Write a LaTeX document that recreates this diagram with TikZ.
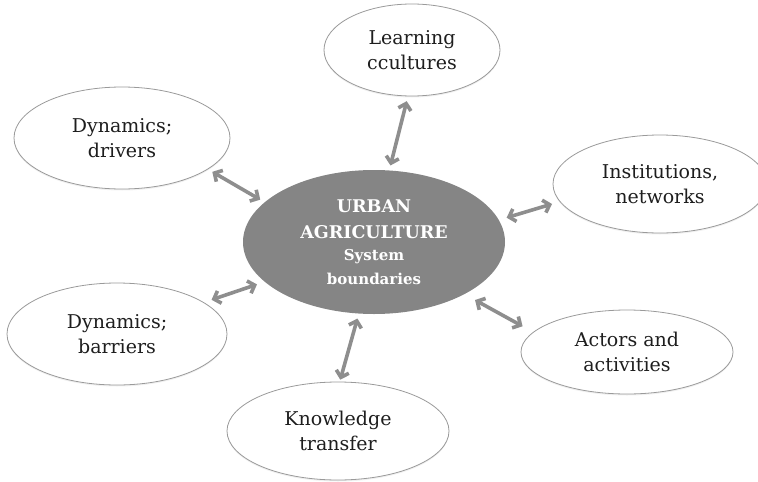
\documentclass[tikz,border=0pt]{standalone}
\usepackage{fontspec}
\setmainfont{DejaVu Serif}
\usetikzlibrary{shapes.geometric,arrows.meta,shadows}
\definecolor{rimgray}{HTML}{9A9A9A}
\definecolor{coregray}{HTML}{858585}
\definecolor{linkgray}{HTML}{8E8E8E}
\definecolor{inkgray}{HTML}{1E1E1E}
\newcommand{\bigline}{\fontsize{17.5}{24}\selectfont\bfseries}
\newcommand{\smallline}{\fontsize{15}{20}\selectfont\bfseries}
\begin{document}
\begin{tikzpicture}[x=1pt,y=-1pt,
  topic/.style={ellipse, draw=rimgray, line width=0.8pt, fill=white,
    inner sep=0pt, align=center, text=inkgray,
    font=\fontsize{19}{25}\selectfont,
    drop shadow={opacity=0.12, shadow xshift=0pt, shadow yshift=-1.5pt}},
  core/.style={ellipse, fill=coregray, draw=none, inner sep=0pt,
    align=center, text=white, font=\bigline},
  link/.style={draw=linkgray, line width=3.6pt,
    {Straight Barb[length=6pt,width=13pt]}-{Straight Barb[length=6pt,width=13pt]},
    shorten <=5pt, shorten >=5pt}]
\useasboundingbox (0,0) rectangle (758,482);

% central system ellipse
\node[core, minimum width=262pt, minimum height=144pt] (c) at (374,242)
  {URBAN\\[2pt]AGRICULTURE\\[-2pt]\smallline System\\\smallline boundaries};

% surrounding topics
\node[topic, minimum width=176pt, minimum height=92pt]  (lc) at (412,50)  {Learning\\ccultures};
\node[topic, minimum width=216pt, minimum height=102pt] (dr) at (122,138) {Dynamics;\\drivers};
\node[topic, minimum width=214pt, minimum height=98pt]  (in) at (660,184) {Institutions,\\networks};
\node[topic, minimum width=220pt, minimum height=102pt] (db) at (117,334) {Dynamics;\\barriers};
\node[topic, minimum width=212pt, minimum height=84pt]  (ac) at (627,352) {Actors and\\activities};
\node[topic, minimum width=222pt, minimum height=98pt]  (kt) at (338,431) {Knowledge\\transfer};

% two-way links to the core
\draw[link] (lc.-95) -- (c.78);
\draw[link] (dr.-20) -- (c.160);
\draw[link, shorten <=8pt, shorten >=8pt] (in.190) -- (c.10);
\draw[link, shorten <=8pt, shorten >=8pt] (db.20) -- (c.200);
\draw[link, shorten <=12pt, shorten >=12pt] (ac.168) -- (c.-30);
\draw[link, shorten <=2pt] (kt.88) -- (c.-102);
\end{tikzpicture}
\end{document}
